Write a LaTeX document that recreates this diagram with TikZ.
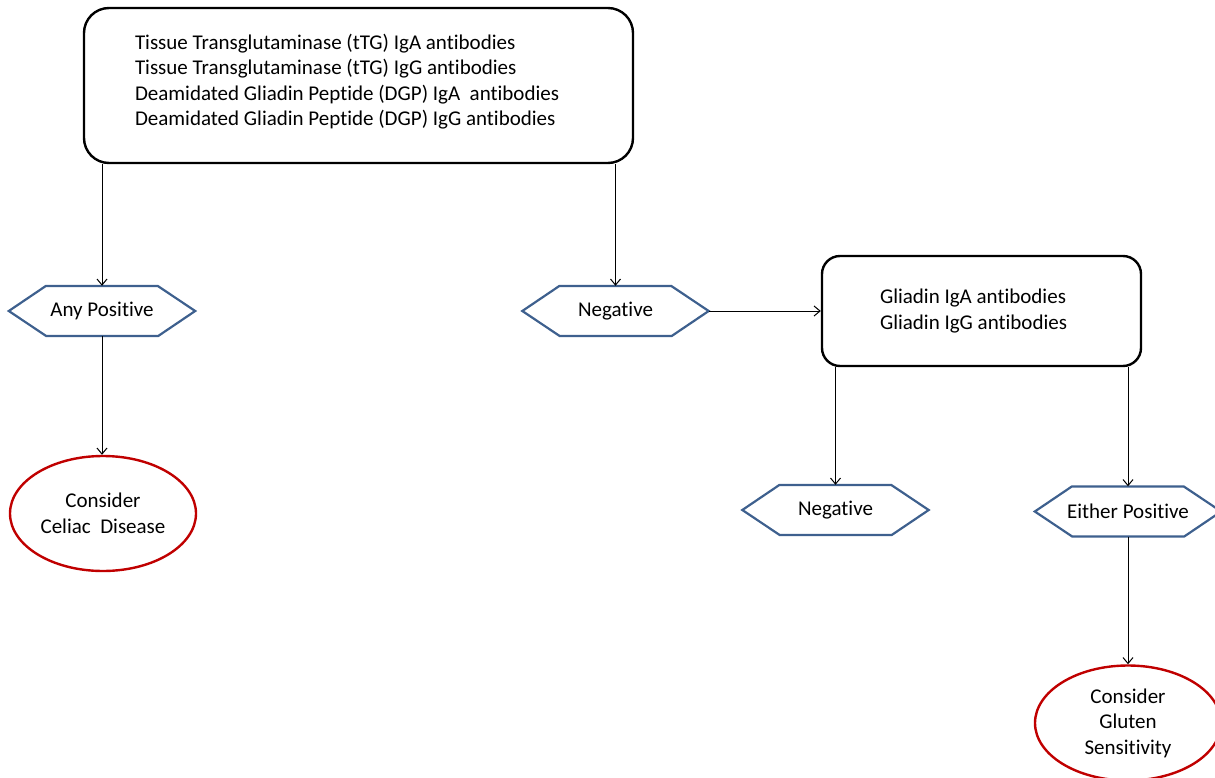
\documentclass[tikz,border=0pt]{standalone}
\usepackage{fontspec}
\setmainfont[Ligatures=NoCommon]{Carlito}
\usetikzlibrary{arrows.meta,shapes.geometric}
\definecolor{hexblue}{RGB}{62,96,142}
\definecolor{ovalred}{RGB}{192,0,0}
\tikzset{
  every node/.style={font=\fontsize{21pt}{25.5pt}\selectfont},
  testbox/.style={draw=black,line width=2.4pt,rounded corners=#1,inner sep=0pt},
  hexa/.style={rectangle,minimum width=186pt,minimum height=50pt,inner sep=0pt},
  hexline/.style={draw=hexblue,line width=2.2pt,line join=miter},
  oval/.style={draw=ovalred,line width=2.4pt,ellipse,minimum width=186pt,
    minimum height=115pt,inner sep=0pt,align=center},
  arr/.style={draw=black,line width=1pt,-{Straight Barb[length=6pt,width=10pt]}}
}
\newcommand\hexoutline[1]{\draw[hexline] (#1.west) -- ++(37,-25) -- ++(112,0)
  -- (#1.east) -- ++(-37,25) -- ++(-112,0) -- cycle;}
\begin{document}
\begin{tikzpicture}[x=1pt,y=-1pt]
\useasboundingbox (0,0) rectangle (1215,778);
\node[testbox=25pt,minimum width=549pt,minimum height=155pt,text width=447pt,align=flush left]
  (top) at (358.5,85.5) {Tissue Transglutaminase (tTG) IgA antibodies\\
  Tissue Transglutaminase (tTG) IgG antibodies\\
  Deamidated Gliadin Peptide (DGP) IgA\ \ antibodies\\
  Deamidated Gliadin Peptide (DGP) IgG antibodies\\[-14pt]\mbox{}};
\node[hexa] (anypos) at (102,311) {Any Positive};
\node[hexa] (neg1) at (615.5,311) {Negative};
\node[testbox=18pt,minimum width=319pt,minimum height=110pt,text width=203pt,
  inner xsep=58pt,align=flush left]
  (glia) at (981.5,311) {Gliadin IgA antibodies\\Gliadin IgG antibodies};
\node[hexa] (neg2) at (835.5,510) {Negative};
\node[hexa] (either) at (1128,511.5) {Either Positive};
\node[oval] (celiac) at (103,513.5) {Consider\\Celiac\ \ Disease};
\node[oval] (gluten) at (1128,723) {Consider\\Gluten\\Sensitivity};
\hexoutline{anypos}
\hexoutline{neg1}
\hexoutline{neg2}
\hexoutline{either}
\draw[arr] (top.south -| anypos.north) -- (anypos.north);
\draw[arr] (top.south -| neg1.north) -- (neg1.north);
\draw[arr] (neg1.east) -- (glia.west);
\draw[arr] (anypos.south) -- (anypos.south |- celiac.north);
\draw[arr] (glia.south -| neg2.north) -- (neg2.north);
\draw[arr] (glia.south -| either.north) -- (either.north);
\draw[arr] (either.south) -- (gluten.north);
\end{tikzpicture}
\end{document}
